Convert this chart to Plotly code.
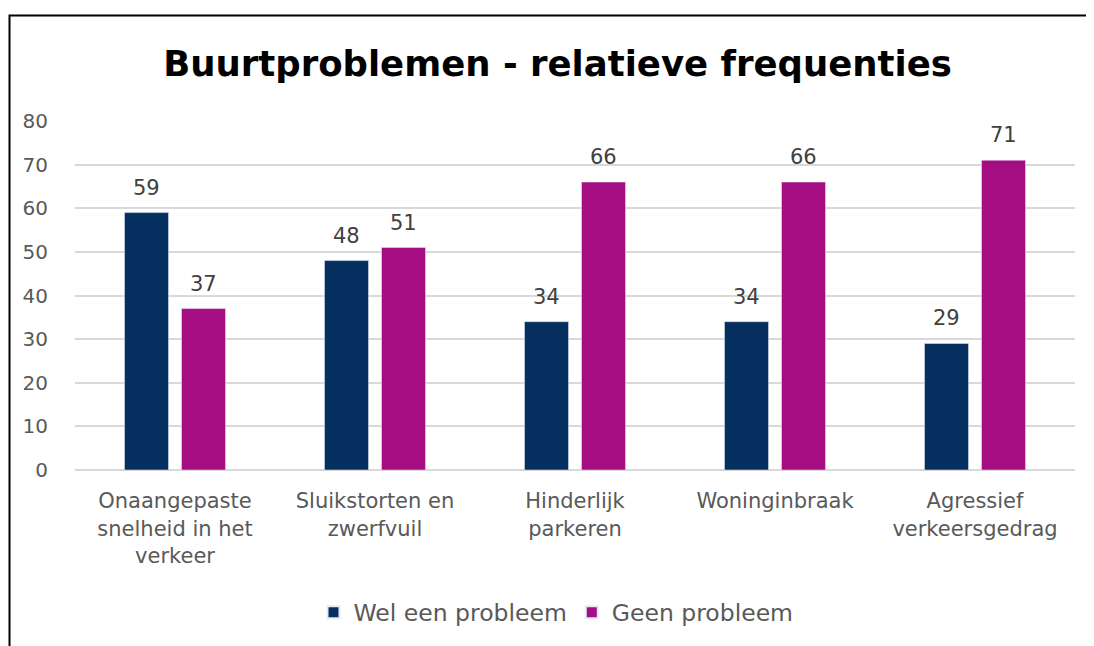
import plotly.graph_objects as go

categories = [
    "Onaangepaste<br>snelheid in het<br>verkeer",
    "Sluikstorten en<br>zwerfvuil",
    "Hinderlijk<br>parkeren",
    "Woninginbraak",
    "Agressief<br>verkeersgedrag",
]
wel_probleem = [59, 48, 34, 34, 29]
geen_probleem = [37, 51, 66, 66, 71]
y_ticks = [0, 10, 20, 30, 40, 50, 60, 70, 80]

NAVY = "#052f5f"
MAGENTA = "#a50e82"
GREY = "#595959"
DARK = "#404040"
FONT = "DejaVu Sans"

fig = go.Figure()
fig.add_trace(go.Bar(x=categories, y=wel_probleem, name="Wel een probleem",
                     marker_color=NAVY))
fig.add_trace(go.Bar(x=categories, y=geen_probleem, name="Geen probleem",
                     marker_color=MAGENTA))

# value labels above the bars
annotations = []
for cat, v1, v2 in zip(categories, wel_probleem, geen_probleem):
    for val, shift in ((v1, -28.5), (v2, 28.5)):
        annotations.append(dict(
            x=cat, y=val, text=str(val), showarrow=False,
            xshift=shift, yshift=25, yanchor="middle",
            font=dict(size=21, color=DARK, family=FONT),
        ))

# page body adds 8px offset, so figure is a bit smaller than the window
fig.update_layout(
    width=1086, height=638,
    margin=dict(l=67, r=19, t=113, b=164),
    paper_bgcolor="white", plot_bgcolor="white",
    font=dict(family=FONT, color=GREY),
    title=dict(
        text="<b>Buurtproblemen - relatieve frequenties</b>",
        x=0.506, xanchor="center", y=0.913, yanchor="middle",
        font=dict(size=35.5, color="black", family=FONT),
    ),
    barmode="group", bargap=0.43, bargroupgap=0.228,
    showlegend=True,
    legend=dict(
        orientation="h", x=0.481, xanchor="center", y=-0.345, yanchor="top",
        font=dict(size=23.5, color=GREY), itemsizing="constant",
    ),
    xaxis=dict(
        tickfont=dict(size=21, color=GREY), showline=False,
        ticks="outside", ticklen=12, tickcolor="rgba(0,0,0,0)",
        showgrid=False,
    ),
    yaxis=dict(
        range=[0, 80], tickvals=y_ticks, tickfont=dict(size=20, color=GREY),
        showgrid=True, gridcolor="#d9d9d9", gridwidth=1.5,
        zeroline=True, zerolinecolor="#d9d9d9", zerolinewidth=1.5,
        ticks="outside", ticklen=22, tickcolor="rgba(0,0,0,0)",
    ),
    annotations=annotations,
    shapes=[dict(
        type="rect", xref="paper", yref="paper",
        x0=-0.0655, x1=1.1, y0=-0.6, y1=1.302,
        line=dict(color="black", width=2), fillcolor="rgba(0,0,0,0)",
        layer="below",
    )],
)

fig.write_html("out.html")
